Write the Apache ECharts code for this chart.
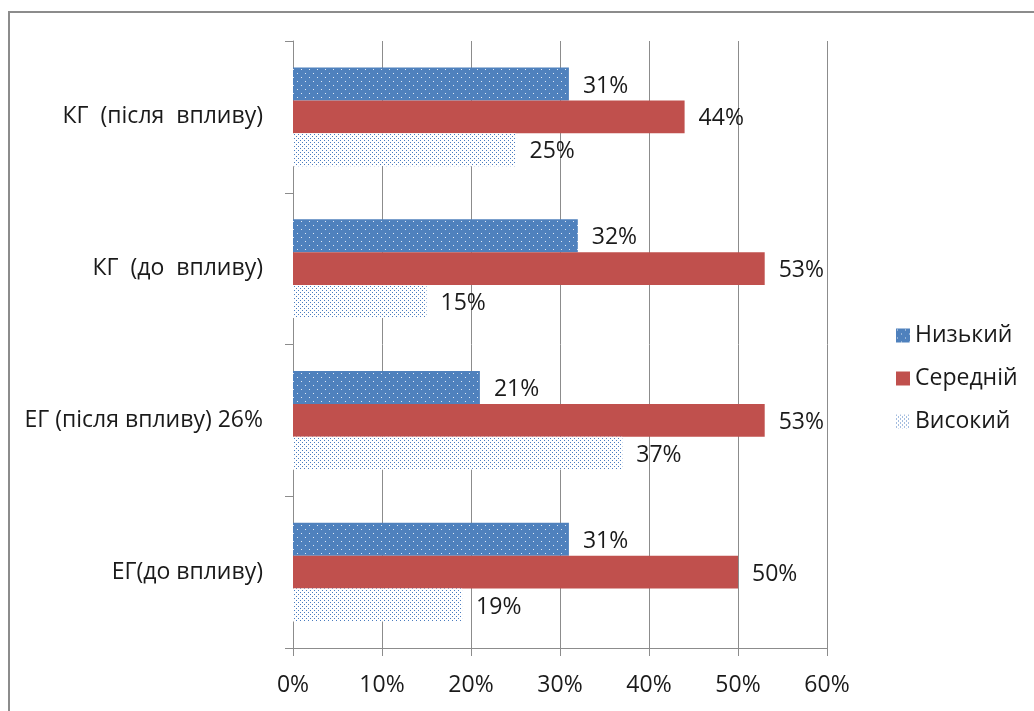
<!DOCTYPE html>
<html>
<head>
<meta charset="utf-8">
<script src="https://cdn.jsdelivr.net/npm/echarts@6/dist/echarts.min.js"></script>
<style>
  html, body { margin: 0; padding: 0; background: #fff; }
  #chart { width: 1034px; height: 711px; }
</style>
</head>
<body>
<div id="chart"></div>
<script>
// Groups, listed top to bottom
const categories = ['КГ  (після  впливу)', 'КГ  (до  впливу)', 'ЕГ (після впливу) 26%', 'ЕГ(до впливу)'];
const seriesNames = ['Низький', 'Середній', 'Високий'];
const lowValues = [31, 32, 21, 31];
const midValues = [44, 53, 53, 50];
const highValues = [25, 15, 37, 19];
const tickLabels = ['0%', '10%', '20%', '30%', '40%', '50%', '60%'];

const FONT = '"Open Sans", Lato, sans-serif';
const FS = 23;

// Small repeating tile used as a dotted fill
function dotTile(size, bg, dot, dots) {
  const c = document.createElement('canvas');
  c.width = size; c.height = size;
  const ctx = c.getContext('2d');
  if (bg) { ctx.fillStyle = bg; ctx.fillRect(0, 0, size, size); }
  ctx.fillStyle = dot;
  dots.forEach(([x, y]) => ctx.fillRect(x, y, 1, 1));
  return c;
}

const lowFill = { image: dotTile(8, '#4f81bd', '#dfe8f4', [[1, 1], [5, 5]]), repeat: 'repeat' };
const midFill = '#c0504d';
const highFill = { image: dotTile(4, '#ffffff', '#4a7cc0', [[0, 0], [2, 2]]), repeat: 'repeat' };

const chart = echarts.init(document.getElementById('chart'));

const label = {
  show: true,
  position: 'right',
  distance: 14,
  offset: [0, 2],
  color: '#1a1a1a',
  fontSize: FS,
  fontFamily: FONT,
  formatter: p => p.value + '%'
};

function bar(name, values, fill) {
  return {
    name: name,
    type: 'bar',
    data: values,
    barGap: '0%',
    barCategoryGap: '35%',
    itemStyle: { color: fill },
    label: label,
    animation: false
  };
}

chart.setOption({
  animation: false,
  textStyle: { fontFamily: FONT },
  graphic: [{
    type: 'rect',
    shape: { x: 9, y: 12, width: 1100, height: 800 },
    style: { fill: 'none', stroke: '#8c8c8c', lineWidth: 2 },
    silent: true
  }],
  legend: {
    orient: 'vertical',
    left: 891,
    top: 319,
    itemWidth: 14,
    itemHeight: 14,
    itemGap: 20,
    icon: 'rect',
    textStyle: { fontSize: FS, color: '#1a1a1a', fontFamily: FONT },
    data: seriesNames
  },
  grid: { left: 293, right: 207, top: 41, bottom: 63, containLabel: false },
  xAxis: {
    type: 'value',
    min: 0,
    max: 60,
    interval: 10,
    axisLine: { show: true, lineStyle: { color: '#8c8c8c', width: 1 } },
    axisTick: { show: true, length: 8, lineStyle: { color: '#8c8c8c' } },
    splitLine: { show: true, lineStyle: { color: '#8c8c8c', width: 1 } },
    axisLabel: {
      margin: 26,
      fontSize: FS,
      color: '#1a1a1a',
      fontFamily: FONT,
      formatter: v => tickLabels[Math.round(v / 10)]
    }
  },
  yAxis: {
    type: 'category',
    inverse: true,
    data: categories,
    axisLine: { show: true, lineStyle: { color: '#8c8c8c', width: 1 } },
    axisTick: { show: true, inside: false, length: 8, lineStyle: { color: '#8c8c8c' } },
    axisLabel: { margin: 30, fontSize: FS, color: '#1a1a1a', fontFamily: FONT }
  },
  series: [
    bar(seriesNames[0], lowValues, lowFill),
    bar(seriesNames[1], midValues, midFill),
    bar(seriesNames[2], highValues, highFill)
  ]
});
</script>
</body>
</html>
